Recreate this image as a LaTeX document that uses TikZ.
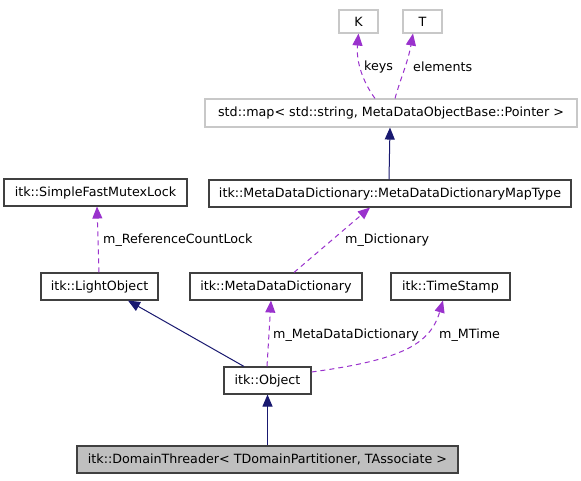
\documentclass[tikz,border=0pt]{standalone}
\usepackage{fontspec}
\setmainfont{DejaVu Sans}
\usetikzlibrary{arrows.meta}
\definecolor{edgeblue}{HTML}{191970}
\definecolor{edgepurple}{HTML}{9A32CD}
\definecolor{boxgray}{HTML}{BFBFBF}
\definecolor{boxborder}{HTML}{404040}
\definecolor{extborder}{HTML}{C8C8C8}
\tikzset{
  cls/.style={draw=boxborder, line width=1.1pt, fill=white, inner sep=0pt,
    minimum height=27pt, font=\fontsize{12.7}{14}\selectfont, text=black},
  extcls/.style={cls, draw=extborder},
  curcls/.style={cls, fill=boxgray},
  inh/.style={draw=edgeblue, line width=1pt, -{Triangle[length=12pt,width=10pt]}},
  usage/.style={draw=edgepurple, line width=1pt, dash pattern=on 5pt off 4pt,
    -{Triangle[length=12pt,width=10pt]}},
  lbl/.style={font=\fontsize{12.7}{14}\selectfont, anchor=west, inner sep=0pt, text=black}
}
\begin{document}
\begin{tikzpicture}[x=1pt,y=-1pt]
\useasboundingbox[fill=white] (0,0) rectangle (581,480);
% nodes
\node[extcls, minimum width=39pt, minimum height=23pt] (K) at (358.5,21.5) {K};
\node[extcls, minimum width=39pt, minimum height=23pt] (T) at (422.5,21.5) {T};
\node[extcls, minimum width=372pt, minimum height=28pt] (map) at (391,113) {std::map< std::string, MetaDataObjectBase::Pointer >};
\node[cls, minimum width=362pt] (mt) at (390,193.5) {itk::MetaDataDictionary::MetaDataDictionaryMapType};
\node[cls, minimum width=183pt] (sfml) at (95.5,192.5) {itk::SimpleFastMutexLock};
\node[cls, minimum width=117pt] (lo) at (99.5,286.5) {itk::LightObject};
\node[cls, minimum width=172pt] (mdd) at (276,286.5) {itk::MetaDataDictionary};
\node[cls, minimum width=119pt] (ts) at (450.5,286.5) {itk::TimeStamp};
\node[cls, minimum width=87pt] (obj) at (267.5,380.5) {itk::Object};
\node[curcls, minimum width=381pt] (dt) at (267.5,459.5) {itk::DomainThreader< TDomainPartitioner, TAssociate >};
% inheritance
\draw[inh] (dt.north) -- (obj.south);
\draw[inh] ([xshift=-23.5pt]obj.north) -- ([xshift=28.5pt]lo.south);
\draw[inh] ([xshift=-1pt]mt.north) -- ([xshift=-1pt]map.south);
% usage
\draw[usage] ([xshift=-16pt]map.north) .. controls (363,82) and (356,62) .. (K.south);
\draw[usage] ([xshift=4pt]map.north) .. controls (400,80) and (408,62) .. ([xshift=-9.5pt]T.south);
\draw[usage] ([xshift=18pt]mdd.north) -- ([xshift=-20pt]mt.south);
\draw[usage] ([xshift=-0.5pt]lo.north) -- ([xshift=1.5pt]sfml.south);
\draw[usage] ([xshift=-0.5pt]obj.north) -- ([xshift=-5pt]mdd.south);
\draw[usage] ([yshift=8.5pt]obj.east) .. controls (400,360) and (430,345) .. ([xshift=-7.5pt]ts.south);
% labels
\node[lbl] (lkeys) at (364,67) {keys};
\node[lbl] (lelem) at (413,67) {elements};
\node[lbl] (ldict) at (345,240) {m\_Dictionary};
\node[lbl] (lrcl) at (103,240) {m\_ReferenceCountLock};
\node[lbl] (lmdd) at (273,335) {m\_MetaDataDictionary};
\node[lbl] (lmt) at (439,335) {m\_MTime};
\end{tikzpicture}
\end{document}
